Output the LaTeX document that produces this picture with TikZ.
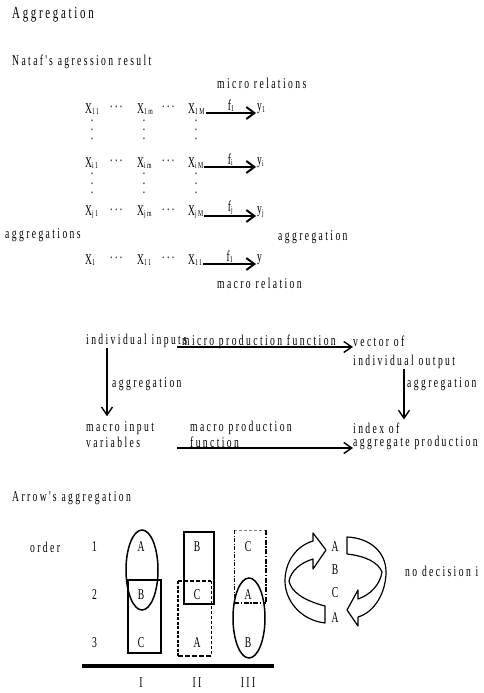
\documentclass[tikz,border=0pt]{standalone}
\usepackage{fontspec}
\setmainfont{Liberation Serif}[FakeStretch=0.64,LetterSpace=16]
\usetikzlibrary{arrows.meta}

% small lowered index used in the variable names
\newcommand\sbs[1]{\raisebox{-1.5pt}{\fontsize{9}{9}\selectfont#1}}
% raised horizontal ellipsis between the variables
\newcommand\cdts{\raisebox{4pt}{.\,.\,.}}
% vertical ellipsis: three stacked periods with a fixed pitch
\newcommand\vdotstack{\vbox{\offinterlineskip\hbox{.}\vskip7.5pt\hbox{.}\vskip7.5pt\hbox{.}}}
% straight typewriter-style apostrophe, spaced like the letter-spaced text
\newcommand\sqap{\kern2.2pt{\addfontfeature{Ligatures=TeXOff}'}\kern2.2pt}

\begin{document}
\begin{tikzpicture}[x=1pt,y=-1pt,
  txt/.style={inner sep=0pt,anchor=west,font=\fontsize{15}{16}\selectfont},
  head/.style={inner sep=0pt,anchor=west,font=\fontsize{17}{18}\selectfont},
  vdts/.style={inner sep=0pt,font=\fontsize{15}{16}\selectfont},
  bigarrow/.style={line width=2pt,-{Straight Barb[length=8pt,width=12pt,line width=2pt]}},
  midarrow/.style={line width=1.4pt,-{Straight Barb[length=8pt,width=11pt,line width=1.4pt]}},
  outline/.style={line width=1.5pt},
  blockarrow/.style={line width=1.2pt,line join=round}
]
\useasboundingbox (0,0) rectangle (484,693);

% ---------- headings ----------
\node[head] (title) at (12,15) {Aggregation};
\node[txt] (nataf) at (12,62) {Nataf\sqap s agression result};

% ---------- micro / macro relations ----------
\node[txt] (microrel) at (217,83) {micro relations};
\foreach \r/\y/\a/\b/\c/\f/\o in {1/109/11/1m/1M/1/1, i/163/i1/im/iM/i/i, j/212/j1/jm/jM/j/j, L/260/1/11/11/1/{}}{
  \node[txt] (Xa\r) at (85,\y) {X\sbs{\a}};
  \node[txt] (da\r) at (110,\y) {\cdts};
  \node[txt] (Xb\r) at (137,\y) {X\sbs{\b}};
  \node[txt] (db\r) at (162,\y) {\cdts};
  \node[txt] (Xc\r) at (188,\y) {X\sbs{\c}};
  \node[txt] (yy\r) at (257,\y) {y\sbs{\o}};
  \draw[bigarrow] ([xshift=1pt,yshift=-4pt]Xc\r.east) -- ([xshift=-1pt,yshift=-4pt]yy\r.west)
     node[midway,above=0.5pt,inner sep=0pt,font=\fontsize{15}{16}\selectfont] (f\r) {f\sbs{\f}};
}
\foreach \x/\n in {92/a,144/b,196/c}{
  \node[vdts] (va\n) at (\x,130) {\vdotstack};
  \node[vdts] (vb\n) at (\x,183.5) {\vdotstack};
}
\node[txt] (aggl) at (5,235) {aggregations};
\node[txt] (aggr) at (278,237) {aggregation};
\node[txt] (macrorel) at (217,283) {macro relation};

% ---------- production functions ----------
\node[txt] (ii) at (86,341) {individual inputs};
\node[txt] (vo) at (353,341) {vector of};
\node[txt] (io) at (353,362) {individual output};
\node[txt] (mi) at (86,428) {macro input};
\node[txt] (mv) at (86,442) {variables};
\node[txt] (mp) at (190,428) {macro production};
\node[txt] (mf) at (190,442) {function};
\node[txt] (ix) at (353,428) {index of};
\node[txt] (ap) at (353,443) {aggregate production};
\node[txt,anchor=base west] (mpf) at (182,345.5) {micro production function};
\coordinate (t1) at (177,347);
\coordinate (t2) at (177,448);
\draw[midarrow] (t1) -- (t1 -| vo.west);
\draw[midarrow] (t2) -- (t2 -| ap.west);
\draw[midarrow] ([xshift=21pt]ii.south west) -- ([xshift=21pt,yshift=5pt]ii.south west |- mi.north);
\draw[midarrow] ([xshift=51pt]io.south west) -- ([xshift=51pt,yshift=3pt]io.south west |- ix.north);
\node[txt] (agg1) at (112,384) {aggregation};
\node[txt] (agg2) at (407,384) {aggregation};

% ---------- Arrow's aggregation ----------
\node[txt] (arrowt) at (12,498) {Arrow\sqap s aggregation};
\node[txt] (order) at (30,547) {order};
\node[txt] (o1) at (92,547) {1};
\node[txt] (o2) at (92,595) {2};
\node[txt] (o3) at (92,643) {3};

% profile I
\draw[outline] (128,580) rectangle (161,653);
\draw[outline] (142,570) ellipse [x radius=16pt,y radius=40pt];
% profile II
\draw[outline] (184,532) rectangle (214,604);
\draw[line width=2.2pt,dash pattern=on 3pt off 1.5pt] (178,581) -- (178,656);
\draw[line width=2.2pt,dash pattern=on 4pt off 2pt] (178,581) -- (211,581);
\draw[line width=2.2pt,dash pattern=on 5pt off 2pt] (178,656) -- (211,656);
\draw[line width=0.8pt,dash pattern=on 3pt off 2pt] (211,581) -- (211,656);
% profile III
\draw[line width=0.6pt,gray,dash pattern=on 3pt off 2pt] (234,530) -- (266,530);
\draw[line width=0.8pt,dash pattern=on 4pt off 1.5pt on 1pt off 1.5pt] (234,530) -- (234,603);
\draw[line width=2.2pt,dash pattern=on 5pt off 1.5pt on 1.5pt off 1.5pt] (266,530) -- (266,603);
\draw[line width=2.2pt,dash pattern=on 5pt off 1.5pt on 1.5pt off 1.5pt] (234,603) -- (266,603);
\draw[outline] (249,618) ellipse [x radius=16pt,y radius=40pt];

\foreach \x/\a/\b/\c/\n in {141/A/B/C/I,197/B/C/A/II,248/C/A/B/III}{
  \node[txt,anchor=center] (p\n1) at (\x,547) {\a};
  \node[txt,anchor=center] (p\n2) at (\x,595) {\b};
  \node[txt,anchor=center] (p\n3) at (\x,643) {\c};
  \node[txt,anchor=center] (lab\n) at (\x,683) {\n};
}
\draw[line width=4.5pt] (82,666) -- (274,666);

% cycle of majorities
\foreach \y/\l/\n in {547/A/1,570/B/2,593/C/3,618/A/4}
  \node[txt,anchor=center] (cy\n) at (335,\y) {\l};
\draw[blockarrow] (325,623) -- (325,606)
  .. controls (302,600) and (291,591) .. (289,581)
  .. controls (291,571) and (300,563) .. (313,559)
  -- (313,569) -- (326,550) -- (313,533) -- (313,541)
  .. controls (296,546) and (285,562) .. (285,581)
  .. controls (285,600) and (300,620) .. (325,623) -- cycle;
\draw[blockarrow] (347,537) -- (347,554)
  .. controls (365,556) and (378,562) .. (382,572)
  .. controls (380,585) and (370,595) .. (358,599)
  -- (358,590) -- (347,610) -- (358,626) -- (358,617)
  .. controls (375,612) and (386,592) .. (386,572)
  .. controls (386,552) and (370,538) .. (347,537) -- cycle;
\node[txt] (nodec) at (405,571) {no decision i};
\end{tikzpicture}
\end{document}
